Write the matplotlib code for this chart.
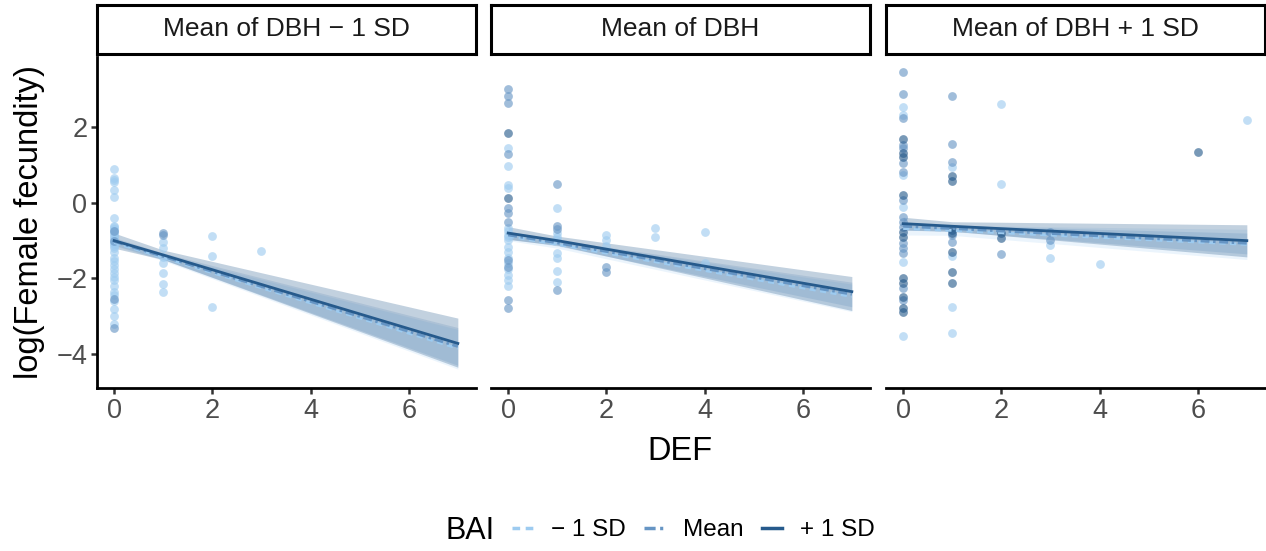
import numpy as np
import matplotlib.pyplot as plt
from matplotlib.lines import Line2D

plt.rcParams['font.family'] = ['Liberation Sans', 'DejaVu Sans']

PANELS = ["Mean of DBH \u2212 1 SD", "Mean of DBH", "Mean of DBH + 1 SD"]
BAI_LEVELS = ["\u2212 1 SD", "Mean", "+ 1 SD"]
BAI_COLORS = ["#9dcbf0", "#6695c4", "#265a8c"]
BAI_STYLES = [(0, (2.2, 1.6)), (0, (3.2, 1.3, 0.9, 1.3)), "solid"]

# observed points (DEF, log fecundity) per DBH panel and BAI level
P1_LO = [(0, 0.9), (0, 0.65), (0, 0.6), (0, 0.55), (0, 0.35), (0, 0.15), (0, -0.4), (0, -0.6),
         (0, -0.65), (0, -0.7), (0, -0.75), (0, -0.8), (0, -0.85), (0, -0.9), (0, -0.95), (0, -1.0),
         (0, -1.05), (0, -1.1), (0, -1.15), (0, -1.2), (0, -1.3), (0, -1.45), (0, -1.55), (0, -1.65),
         (0, -1.75), (0, -1.85), (0, -1.95), (0, -2.05), (0, -2.2), (0, -2.35), (0, -2.45), (0, -2.6),
         (0, -2.8), (0, -3.0), (0, -3.2), (1, -1.03), (1, -1.2), (1, -1.43), (1, -1.6), (1, -1.85),
         (1, -2.14), (1, -2.37), (2, -0.87), (2, -1.4), (2, -2.75), (3, -1.27)]
P1_MID = [(0, -0.75), (0, -1.0), (0, -2.55), (0, -3.3), (1, -0.8), (1, -0.85)]
P1_HI = []

P2_LO = [(0, 1.45), (0, 0.98), (0, 0.48), (0, 0.4), (0, -0.66), (0, -0.75), (0, -0.85), (0, -0.9),
         (0, -0.98), (0, -1.16), (0, -1.3), (0, -1.45), (0, -1.6), (0, -1.75), (0, -1.9), (0, -2.05),
         (0, -2.2), (1, -0.13), (1, -0.8), (1, -0.9), (1, -0.98), (1, -1.32), (1, -1.45), (1, -1.8),
         (1, -2.1), (2, -0.85), (2, -0.98), (2, -1.13), (3, -0.66), (3, -0.9), (4, -0.77), (4, -1.6)]
P2_MID = [(0, 3.0), (0, 2.83), (0, 2.65), (0, 1.3), (0, -0.13), (0, -0.26), (0, -0.5), (0, -1.5),
          (0, -1.7), (0, -2.57), (0, -2.78), (1, 0.5), (1, -0.6), (1, -0.7), (1, -2.3), (2, -1.7),
          (2, -1.83)]
P2_HI = [(0, 1.85), (0, 0.13)]

P3_LO = [(0, 2.54), (0, 2.33), (0, 0.74), (0, -0.1), (0, -1.56), (0, -3.52), (1, 0.95), (1, -1.4),
         (1, -2.75), (1, -3.44), (2, 2.62), (2, 0.5), (3, -1.11), (3, -1.45), (4, -1.61), (7, 2.2)]
P3_MID = [(0, 3.47), (0, 2.88), (0, 2.25), (0, 1.53), (0, 1.45), (0, 1.06), (0, 0.82), (0, 0.08),
          (0, -0.37), (0, -0.5), (0, -0.63), (0, -1.05), (0, -1.2), (0, -1.32), (0, -2.25), (0, -2.57),
          (1, 2.83), (1, 1.56), (1, 1.08), (1, -0.85), (1, -1.03), (2, -1.35), (3, -0.77), (3, -0.98)]
P3_HI = [(0, 1.69), (0, 1.32), (0, 1.22), (0, 0.21), (0, -0.77), (0, -0.9), (0, -1.98), (0, -2.12),
         (0, -2.49), (0, -2.78), (0, -2.9), (1, 0.71), (1, 0.58), (1, -0.71), (1, -0.8), (1, -1.3),
         (1, -1.83), (1, -2.12), (2, -0.79), (2, -0.93), (6, 1.35)]

POINTS = [[P1_LO, P1_MID, P1_HI], [P2_LO, P2_MID, P2_HI], [P3_LO, P3_MID, P3_HI]]

# model predictions at these DEF values: fit, lower, upper  (lo, mean, hi BAI)
DEF_GRID = [0, 1, 7]
P1_FIT = [[-1.05, -1.45, -3.85], [-1.02, -1.42, -3.8], [-1.0, -1.38, -3.72]]
P1_LWR = [[-1.14, -1.53, -4.4], [-1.12, -1.5, -4.3], [-1.2, -1.5, -4.35]]
P1_UPR = [[-0.95, -1.37, -3.35], [-0.92, -1.33, -3.3], [-0.8, -1.25, -3.05]]

P2_FIT = [[-0.88, -1.1, -2.48], [-0.85, -1.06, -2.42], [-0.8, -1.0, -2.35]]
P2_LWR = [[-1.0, -1.2, -2.88], [-0.95, -1.14, -2.75], [-0.97, -1.12, -2.85]]
P2_UPR = [[-0.78, -1.0, -2.15], [-0.75, -0.98, -2.1], [-0.63, -0.88, -1.95]]

P3_FIT = [[-0.68, -0.73, -1.1], [-0.62, -0.68, -1.07], [-0.55, -0.62, -1.0]]
P3_LWR = [[-0.85, -0.86, -1.5], [-0.72, -0.76, -1.35], [-0.72, -0.75, -1.43]]
P3_UPR = [[-0.5, -0.6, -0.7], [-0.52, -0.6, -0.8], [-0.38, -0.5, -0.58]]

FITS = [(P1_FIT, P1_LWR, P1_UPR), (P2_FIT, P2_LWR, P2_UPR), (P3_FIT, P3_LWR, P3_UPR)]

W, H = 1266, 551
fig = plt.figure(figsize=(W / 100, H / 100), dpi=100)

panel_left = [97, 491, 886]
panel_w = 379
ax_top, ax_bot = 57, 388
strip_top, strip_bot = 5, 54

for i, name in enumerate(PANELS):
    ax = fig.add_axes([panel_left[i] / W, 1 - ax_bot / H, panel_w / W, (ax_bot - ax_top) / H])
    fit, lwr, upr = FITS[i]
    for k in range(3):
        ax.fill_between(DEF_GRID, lwr[k], upr[k], color=BAI_COLORS[k],
                        alpha=0.2 if k < 2 else 0.28, linewidth=0, zorder=1)
    for k in range(3):
        pts = POINTS[i][k]
        if pts:
            xs, ys = zip(*pts)
            ax.scatter(xs, ys, s=40, color=BAI_COLORS[k], alpha=0.62, linewidths=0, zorder=2)
    for k in range(3):
        ax.plot(DEF_GRID, fit[k], color=BAI_COLORS[k], lw=2.0, linestyle=BAI_STYLES[k], zorder=3)

    ax.set_xlim(-0.35, 7.37)
    ax.set_ylim(-4.9, 3.86)
    ax.set_xticks([0, 2, 4, 6])
    ax.set_yticks([-4, -2, 0, 2])
    ax.set_yticklabels(["\u22124", "\u22122", "0", "2"])
    for s in ["top", "right"]:
        ax.spines[s].set_visible(False)
    ax.spines["bottom"].set_linewidth(2.0)
    ax.spines["left"].set_linewidth(2.0)
    ax.tick_params(axis="both", length=4, width=1.8, color="#333333", labelcolor="#4d4d4d",
                   labelsize=19.5, pad=3)
    if i > 0:
        ax.spines["left"].set_visible(False)
        ax.tick_params(axis="y", left=False, labelleft=False)

    sax = fig.add_axes([panel_left[i] / W, 1 - strip_bot / H, panel_w / W, (strip_bot - strip_top) / H])
    sax.set_xticks([])
    sax.set_yticks([])
    for s in sax.spines.values():
        s.set_linewidth(2.2)
        s.set_color("black")
    sax.text(0.5, 0.5, name, ha="center", va="center", fontsize=19, color="#1a1a1a",
             transform=sax.transAxes)

fig.text(30 / W, 1 - 222 / H, "log(Female fecundity)", rotation=90, ha="center", va="center",
         fontsize=23.5, color="black")
fig.text(680 / W, 1 - 452 / H, "DEF", ha="center", va="center", fontsize=23.5, color="black")

handles = [Line2D([0], [0], color=BAI_COLORS[k], lw=2.5, linestyle=BAI_STYLES[k]) for k in range(3)]
fig.text(470 / W, 1 - 531 / H, "BAI", ha="center", va="center", fontsize=22, color="black")
fig.legend(handles, BAI_LEVELS, loc="center left", bbox_to_anchor=(512 / W, 1 - 530 / H),
           ncol=3, frameon=False, fontsize=17.5, handlelength=0.85, handletextpad=0.75,
           columnspacing=0.75, borderaxespad=0, borderpad=0)

fig.savefig("out.png", dpi=100)
